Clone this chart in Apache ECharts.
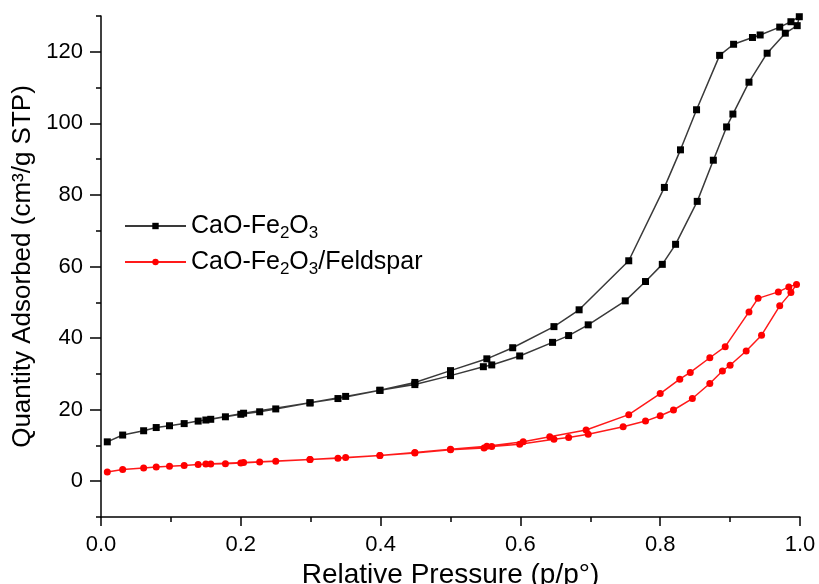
<!DOCTYPE html>
<html lang="en">
<head>
    <meta charset="utf-8">
    <title>Isotherm</title>
    <script src="https://cdn.jsdelivr.net/npm/echarts@6/dist/echarts.min.js"></script>
    <style type="text/css">
        html, body {
            width: 100%;
            height: 100%;
            margin: 0px;
            padding: 0px;
            background: #fff;
        }
        #main {
            width: 819px;
            height: 584px;
        }
    </style>
</head>
<body>
<div id="main"></div>
<script>
    // CaO-Fe2O3, adsorption branch (low -> high)
    var feAdsX = [0.009, 0.031, 0.061, 0.079, 0.098, 0.119, 0.139, 0.157, 0.178, 0.200, 0.227, 0.250, 0.299, 0.350, 0.399,
        0.449, 0.500, 0.547, 0.559, 0.599, 0.646, 0.669, 0.697, 0.750, 0.779, 0.803, 0.822, 0.853, 0.876, 0.895, 0.904,
        0.927, 0.953, 0.979, 0.996];
    var feAdsY = [11.0, 12.9, 14.1, 15.0, 15.5, 16.1, 16.8, 17.3, 18.0, 18.7, 19.4, 20.2, 21.9, 23.7, 25.4,
        27.0, 29.5, 32.0, 32.5, 35.0, 38.8, 40.7, 43.7, 50.4, 55.8, 60.6, 66.2, 78.2, 89.7, 99.0, 102.6,
        111.5, 119.6, 125.2, 127.3];
    // CaO-Fe2O3, desorption branch (high -> low)
    var feDesX = [0.999, 0.987, 0.971, 0.943, 0.932, 0.905, 0.885, 0.852, 0.829, 0.806, 0.755, 0.684, 0.648, 0.589,
        0.552, 0.500, 0.449, 0.399, 0.339, 0.299, 0.204, 0.150];
    var feDesY = [129.8, 128.4, 126.9, 124.7, 124.0, 122.1, 119.0, 103.8, 92.6, 82.1, 61.6, 47.9, 43.2, 37.3,
        34.2, 30.9, 27.6, 25.4, 23.1, 21.9, 19.0, 17.1];

    // CaO-Fe2O3/Feldspar, adsorption branch
    var fdAdsX = [0.009, 0.031, 0.061, 0.079, 0.098, 0.119, 0.139, 0.157, 0.178, 0.200, 0.227, 0.250, 0.299, 0.350, 0.399,
        0.449, 0.500, 0.548, 0.559, 0.599, 0.648, 0.669, 0.697, 0.747, 0.779, 0.800, 0.819, 0.846, 0.871, 0.889, 0.900,
        0.923, 0.945, 0.971, 0.987, 0.995];
    var fdAdsY = [2.6, 3.3, 3.7, 4.0, 4.2, 4.4, 4.7, 4.8, 4.9, 5.1, 5.4, 5.6, 6.1, 6.6, 7.2,
        7.9, 8.8, 9.3, 9.7, 10.3, 11.7, 12.2, 13.1, 15.2, 16.8, 18.3, 19.9, 23.1, 27.3, 30.8, 32.4,
        36.4, 40.8, 49.0, 52.7, 55.0];
    // CaO-Fe2O3/Feldspar, desorption branch
    var fdDesX = [0.984, 0.969, 0.940, 0.927, 0.893, 0.871, 0.843, 0.828, 0.800, 0.755, 0.694, 0.642, 0.604, 0.552,
        0.500, 0.449, 0.399, 0.339, 0.299, 0.204, 0.150];
    var fdDesY = [54.3, 52.9, 51.1, 47.3, 37.6, 34.5, 30.4, 28.5, 24.5, 18.6, 14.3, 12.4, 11.0, 9.8,
        8.9, 8.0, 7.2, 6.4, 6.1, 5.2, 4.8];

    var seriesNames = ['CaO-Fe2O3', 'CaO-Fe2O3/Feldspar'];
    var legendLabels = {
        'CaO-Fe2O3': '{n|CaO-Fe}{s|2}{n|O}{s|3}',
        'CaO-Fe2O3/Feldspar': '{n|CaO-Fe}{s|2}{n|O}{s|3}{n|/Feldspar}'
    };
    var xMajor = [0, 0.2, 0.4, 0.6, 0.8, 1.0];
    var yMajor = [0, 20, 40, 60, 80, 100, 120];

    function loop(ax, ay, dx, dy) {
        var pts = [];
        for (var i = 0; i < ax.length; i++) pts.push([ax[i], ay[i]]);
        for (var j = 0; j < dx.length; j++) pts.push([dx[j], dy[j]]);
        return pts;
    }

    var font = '"Liberation Sans", Arial, sans-serif';
    var axisBase = {
        type: 'value',
        splitLine: { show: false }
    };

    var myChart = echarts.init(document.getElementById('main'));
    myChart.setOption({
        animation: false,
        backgroundColor: '#fff',
        grid: { left: 101, right: 19, top: 16, bottom: 67, outerBoundsMode: 'none', containLabel: false },
        legend: {
            orient: 'vertical',
            left: 119,
            top: 205,
            itemWidth: 61,
            itemHeight: 8,
            itemGap: 4,
            data: seriesNames,
            formatter: function (name) { return legendLabels[name]; },
            textStyle: {
                color: '#000',
                fontFamily: font,
                fontSize: 25,
                lineHeight: 32,
                rich: {
                    n: { fontSize: 25, lineHeight: 32, color: '#000', fontFamily: font },
                    s: { fontSize: 17, lineHeight: 16, verticalAlign: 'bottom', color: '#000', fontFamily: font }
                }
            }
        },
        xAxis: [
            Object.assign({}, axisBase, {
                min: 0, max: 1, interval: 0.1,
                name: 'Relative Pressure (p/p°)',
                nameLocation: 'middle',
                nameGap: 41,
                nameTextStyle: { color: '#000', fontSize: 28, fontFamily: font },
                axisLine: { onZero: false, lineStyle: { color: '#000', width: 1.5 } },
                axisTick: { length: 5, lineStyle: { color: '#000', width: 1.5 } },
                axisLabel: {
                    color: '#000', fontSize: 22, fontFamily: font, margin: 17,
                    formatter: function (v) {
                        return Math.round(v * 10) % 2 === 0 ? v.toFixed(1) : '';
                    }
                }
            }),
            Object.assign({}, axisBase, {
                min: 0, max: 1, interval: 0.1, position: 'bottom',
                axisLine: { show: false, onZero: false },
                axisLabel: { show: false },
                axisTick: { length: 9, customValues: xMajor, lineStyle: { color: '#000', width: 1.5 } }
            })
        ],
        yAxis: [
            Object.assign({}, axisBase, {
                min: -10, max: 130, interval: 10,
                name: 'Quantity Adsorbed (cm³/g STP)',
                nameLocation: 'middle',
                nameGap: 58,
                nameTextStyle: { color: '#000', fontSize: 26, fontFamily: font },
                axisLine: { show: true, onZero: false, lineStyle: { color: '#000', width: 1.5 } },
                axisTick: { show: true, length: 5, lineStyle: { color: '#000', width: 1.5 } },
                axisLabel: {
                    color: '#000', fontSize: 22, fontFamily: font, margin: 18,
                    formatter: function (v) {
                        return Math.round(v) % 20 === 0 ? String(Math.round(v)) : '';
                    }
                }
            }),
            Object.assign({}, axisBase, {
                min: -10, max: 130, interval: 10, position: 'left',
                axisLine: { show: false, onZero: false },
                axisLabel: { show: false },
                axisTick: { show: true, length: 11, customValues: yMajor, lineStyle: { color: '#000', width: 1.5 } }
            })
        ],
        series: [
            {
                name: seriesNames[0],
                type: 'line',
                data: loop(feAdsX, feAdsY, feDesX, feDesY),
                symbol: 'rect',
                symbolSize: 7,
                lineStyle: { color: '#3a3a3a', width: 1.5 },
                itemStyle: { color: '#000' }
            },
            {
                name: seriesNames[1],
                type: 'line',
                data: loop(fdAdsX, fdAdsY, fdDesX, fdDesY),
                symbol: 'circle',
                symbolSize: 7,
                lineStyle: { color: '#ff1a1a', width: 1.5 },
                itemStyle: { color: '#ff0000' }
            }
        ]
    });
</script>
</body>
</html>
